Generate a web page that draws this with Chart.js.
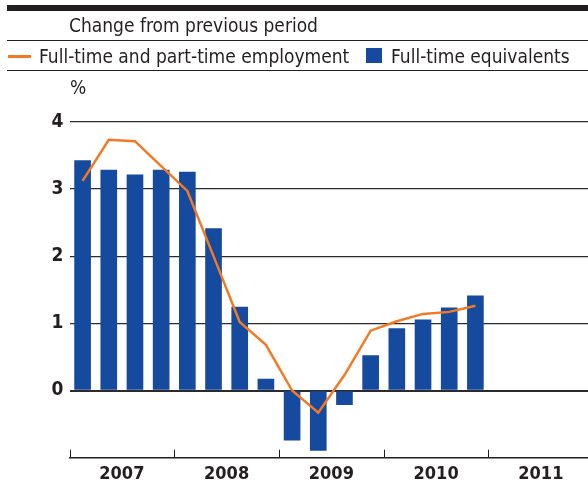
<!DOCTYPE html>
<html>
<head>
<meta charset="utf-8">
<script src="https://cdn.jsdelivr.net/npm/chart.js@4/dist/chart.umd.min.js"></script>
<style>
  html, body { margin: 0; padding: 0; background: #fff; }
  #wrap { position: relative; width: 588px; height: 486px; overflow: hidden;
    font-family: "DejaVu Sans Condensed", "DejaVu Sans", sans-serif; font-stretch: condensed; color: #231f20; }
  #wrap canvas { position: absolute; left: 0; top: 0; }
  .abs { position: absolute; white-space: nowrap; }
  .rule { position: absolute; left: 7px; right: 0; background: #231f20; }
  .txt { font-size: 19px; line-height: 20px; }
</style>
</head>
<body>
<div id="wrap">
  <canvas id="grafica" width="588" height="486"></canvas>
  <div class="rule" style="top:5px;height:6px"></div>
  <div class="abs txt" style="left:69px;top:15px">Change from previous period</div>
  <div class="rule" style="top:40px;height:1px"></div>
  <div class="abs" style="left:8px;top:55px;width:23px;height:2.5px;background:#f37a24"></div>
  <div class="abs txt" style="left:39px;top:46px">Full-time and part-time employment</div>
  <div class="abs" style="left:366px;top:48px;width:16px;height:15px;background:#154a9e"></div>
  <div class="abs txt" style="left:391px;top:46px">Full-time equivalents</div>
  <div class="rule" style="top:70px;height:1px"></div>
  <div class="abs txt" style="left:70px;top:77px">%</div>
</div>
<script>
// Datos: trimestres 2007 T1 – 2010 T4
const anios = ["2007", "2008", "2009", "2010", "2011"];
const empleo = [3.12, 3.73, 3.71, 3.34, 2.97, 2.0, 1.02, 0.68,
                0.0, -0.33, 0.23, 0.89, 1.03, 1.14, 1.17, 1.26];
const equivalentes = [3.42, 3.28, 3.21, 3.28, 3.25, 2.41, 1.24, 0.17,
                      -0.74, -0.89, -0.21, 0.52, 0.92, 1.05, 1.23, 1.41];
const ticksY = [-1, 0, 1, 2, 3, 4];

const colorTexto = "#231f20";
const fuente = "'DejaVu Sans Condensed', 'DejaVu Sans', sans-serif";

// marcas de año hacia arriba desde el eje
const marcasAnio = {
  id: "marcasAnio",
  afterDraw(chart) {
    const { ctx, chartArea, scales } = chart;
    ctx.save();
    ctx.strokeStyle = colorTexto;
    ctx.lineWidth = 1;
    anios.forEach((a, i) => {
      const x = Math.round(scales.x.getPixelForValue(i * 4)) + 0.5;
      ctx.beginPath();
      ctx.moveTo(x, chartArea.bottom);
      ctx.lineTo(x, chartArea.bottom - 8);
      ctx.stroke();
    });
    ctx.restore();
  }
};

const ctx = document.getElementById("grafica").getContext("2d");

new Chart(ctx, {
  type: "bar",
  data: {
    datasets: [
      {
        type: "line",
        label: "Full-time and part-time employment",
        data: empleo.map((v, i) => ({ x: i + 0.5, y: v })),
        borderColor: "#f37a24",
        borderWidth: 2.5,
        pointRadius: 0,
        tension: 0,
        fill: false,
        order: 0
      },
      {
        type: "bar",
        label: "Full-time equivalents",
        data: equivalentes.map((v, i) => ({ x: i + 0.5, y: v })),
        backgroundColor: "#154a9e",
        barThickness: 16,
        order: 1
      }
    ]
  },
  options: {
    responsive: false,
    animation: false,
    layout: { padding: { top: 121.7, left: 0, right: 0, bottom: 0 } },
    plugins: {
      legend: { display: false },
      tooltip: { enabled: false }
    },
    scales: {
      x: {
        type: "linear",
        min: 0,
        max: 19.8,
        offset: false,
        afterBuildTicks: (eje) => {
          eje.ticks = anios.map((a, i) => ({ value: i * 4 + 2 }));
        },
        afterFit: (eje) => { eje.height = 28.3; },
        ticks: {
          autoSkip: false,
          maxRotation: 0,
          padding: 6,
          color: colorTexto,
          font: { family: fuente, size: 18, weight: "bold" },
          callback: (v) => anios[(v - 2) / 4]
        },
        grid: { display: false, drawTicks: false },
        border: { display: true, color: colorTexto, width: 1.5 }
      },
      y: {
        min: -1,
        max: 4,
        afterBuildTicks: (eje) => {
          eje.ticks = ticksY.map(v => ({ value: v }));
        },
        afterFit: (eje) => { eje.width = 69.5; },
        ticks: {
          padding: 6,
          color: colorTexto,
          font: { family: fuente, size: 19, weight: "bold" },
          callback: (v) => (v < 0 ? "" : v)
        },
        grid: {
          drawTicks: false,
          color: (c) => (c.tick && c.tick.value === -1 ? "rgba(0,0,0,0)" : "#2b2b2b"),
          lineWidth: (c) => (c.tick && c.tick.value === 0 ? 2 : 1.2)
        },
        border: { display: false }
      }
    }
  },
  plugins: [marcasAnio]
});
</script>
</body>
</html>
